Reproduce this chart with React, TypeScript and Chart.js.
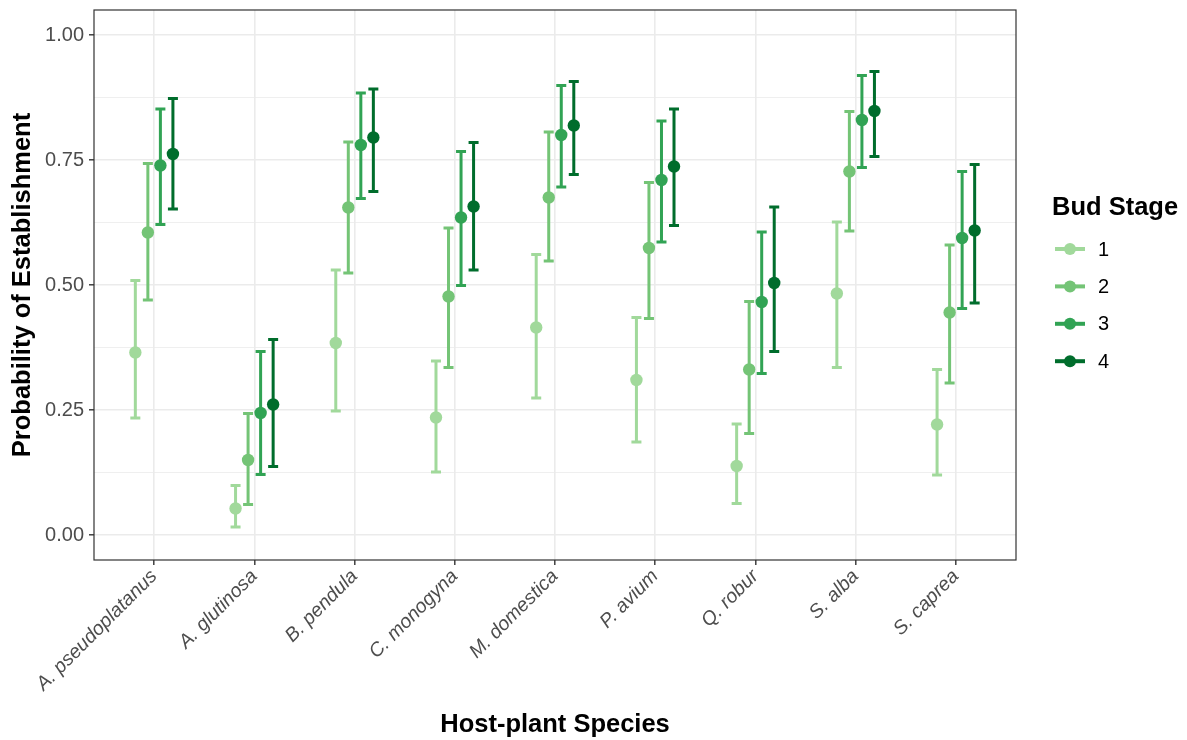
import React, { useEffect, useRef } from "react";
import { Chart, registerables } from "chart.js";

Chart.register(...registerables);

// Host-plant species (x categories)
const SPECIES = [
  "A. pseudoplatanus",
  "A. glutinosa",
  "B. pendula",
  "C. monogyna",
  "M. domestica",
  "P. avium",
  "Q. robur",
  "S. alba",
  "S. caprea",
];

// Bud stages (legend entries)
const STAGES = ["1", "2", "3", "4"];
const STAGE_COLORS = ["#a1d99b", "#74c476", "#31a354", "#006d2c"];

// Estimated probability of establishment with lower / upper interval, per bud stage
const EST_S1 = [0.365, 0.053, 0.384, 0.235, 0.415, 0.31, 0.138, 0.483, 0.221];
const LOW_S1 = [0.234, 0.016, 0.248, 0.126, 0.274, 0.186, 0.063, 0.335, 0.12];
const HIGH_S1 = [0.509, 0.099, 0.53, 0.348, 0.561, 0.435, 0.222, 0.626, 0.331];

const EST_S2 = [0.605, 0.15, 0.655, 0.477, 0.675, 0.574, 0.331, 0.727, 0.445];
const LOW_S2 = [0.47, 0.061, 0.524, 0.335, 0.548, 0.433, 0.203, 0.608, 0.304];
const HIGH_S2 = [0.743, 0.243, 0.786, 0.614, 0.806, 0.705, 0.467, 0.847, 0.58];

const EST_S3 = [0.739, 0.244, 0.78, 0.635, 0.8, 0.71, 0.466, 0.83, 0.594];
const LOW_S3 = [0.621, 0.121, 0.673, 0.499, 0.696, 0.586, 0.323, 0.735, 0.453];
const HIGH_S3 = [0.852, 0.367, 0.884, 0.767, 0.899, 0.828, 0.606, 0.919, 0.727];

const EST_S4 = [0.762, 0.261, 0.795, 0.657, 0.819, 0.737, 0.504, 0.848, 0.609];
const LOW_S4 = [0.652, 0.137, 0.687, 0.53, 0.721, 0.619, 0.367, 0.757, 0.464];
const HIGH_S4 = [0.873, 0.391, 0.892, 0.785, 0.907, 0.852, 0.656, 0.927, 0.741];

// Y axis tick values (major every 0.25, minor in between)
const Y_TICKS = [0, 0.125, 0.25, 0.375, 0.5, 0.625, 0.75, 0.875, 1];
const Y_MAJOR = [0, 0.25, 0.5, 0.75, 1];

const ESTIMATES = [EST_S1, EST_S2, EST_S3, EST_S4];
const LOWS = [LOW_S1, LOW_S2, LOW_S3, LOW_S4];
const HIGHS = [HIGH_S1, HIGH_S2, HIGH_S3, HIGH_S4];

// horizontal dodge of the four stages within a species slot
const DODGE = [-0.1875, -0.0625, 0.0625, 0.1875];

const FONT = "'Liberation Sans', Arial, Helvetica, sans-serif";
const GRID = "#ebebeb";
const INK = "#333333";
const TICK_TEXT = "#4d4d4d";
const CAP_HALF = 5;
const BAR_WIDTH = 3;

const isMajor = (v: number) => Y_MAJOR.some((m) => Math.abs(m - v) < 1e-9);

// keep the plotting panel at a fixed box regardless of label overhang
const noScalePadding = (scale: any) => {
  scale.paddingTop = 0;
  scale.paddingBottom = 0;
  scale.paddingLeft = 0;
  scale.paddingRight = 0;
};

const errorBarPlugin = {
  id: "errorBars",
  beforeDatasetsDraw(chart: any) {
    const { ctx } = chart;
    const xs = chart.scales.x;
    const ys = chart.scales.y;
    chart.data.datasets.forEach((ds: any) => {
      ctx.save();
      ctx.strokeStyle = ds.borderColor;
      ctx.lineWidth = BAR_WIDTH;
      ctx.lineCap = "butt";
      ds.data.forEach((p: any, i: number) => {
        const px = xs.getPixelForValue(p.x);
        const top = ys.getPixelForValue(ds.errHigh[i]);
        const bot = ys.getPixelForValue(ds.errLow[i]);
        ctx.beginPath();
        ctx.moveTo(px, top);
        ctx.lineTo(px, bot);
        ctx.moveTo(px - CAP_HALF, top);
        ctx.lineTo(px + CAP_HALF, top);
        ctx.moveTo(px - CAP_HALF, bot);
        ctx.lineTo(px + CAP_HALF, bot);
        ctx.stroke();
      });
      ctx.restore();
    });
  },
};

const panelBorderPlugin = {
  id: "panelBorder",
  afterDraw(chart: any) {
    const { ctx, chartArea: a } = chart;
    ctx.save();
    ctx.strokeStyle = INK;
    ctx.lineWidth = 1.2;
    ctx.strokeRect(a.left, a.top, a.right - a.left, a.bottom - a.top);
    ctx.restore();
  },
};

const stageLegendPlugin = {
  id: "stageLegend",
  afterDraw(chart: any) {
    const { ctx, chartArea: a } = chart;
    const x0 = a.right + 36;
    ctx.save();
    ctx.fillStyle = "#000000";
    ctx.font = `bold 25.5px ${FONT}`;
    ctx.textAlign = "left";
    ctx.textBaseline = "alphabetic";
    ctx.fillText("Bud Stage", x0, 215);
    chart.data.datasets.forEach((ds: any, i: number) => {
      const cy = 249 + i * 37.4;
      ctx.strokeStyle = ds.borderColor;
      ctx.lineWidth = 4;
      ctx.beginPath();
      ctx.moveTo(x0 + 3, cy);
      ctx.lineTo(x0 + 33, cy);
      ctx.stroke();
      ctx.fillStyle = ds.backgroundColor;
      ctx.beginPath();
      ctx.arc(x0 + 18, cy, 6, 0, Math.PI * 2);
      ctx.fill();
      ctx.fillStyle = "#000000";
      ctx.font = `20px ${FONT}`;
      ctx.textBaseline = "middle";
      ctx.fillText(ds.label, x0 + 46, cy + 1);
    });
    ctx.restore();
  },
};

export default function App() {
  const canvasRef = useRef<HTMLCanvasElement | null>(null);

  useEffect(() => {
    const canvas = canvasRef.current;
    if (!canvas) return;

    const datasets = STAGES.map((stage, s) => ({
      label: stage,
      data: SPECIES.map((_, i) => ({ x: i + DODGE[s], y: ESTIMATES[s][i] })),
      errLow: LOWS[s],
      errHigh: HIGHS[s],
      borderColor: STAGE_COLORS[s],
      backgroundColor: STAGE_COLORS[s],
      pointRadius: 6.2,
      pointBorderWidth: 0,
      pointHoverRadius: 6.2,
      showLine: false,
    }));

    const chart = new Chart(canvas, {
      type: "scatter",
      data: { datasets } as any,
      plugins: [errorBarPlugin, panelBorderPlugin, stageLegendPlugin],
      options: {
        responsive: false,
        animation: false,
        layout: { padding: { left: 0, top: 10, right: 171, bottom: 0 } },
        plugins: {
          legend: { display: false },
          tooltip: { enabled: false },
        },
        scales: {
          x: {
            type: "linear",
            min: -0.6,
            max: SPECIES.length - 1 + 0.6,
            afterBuildTicks: (scale: any) => {
              scale.ticks = SPECIES.map((_, i) => ({ value: i }));
            },
            afterFit: (scale: any) => {
              scale.height = 180;
              noScalePadding(scale);
            },
            ticks: {
              autoSkip: false,
              minRotation: 45,
              maxRotation: 45,
              padding: 0,
              color: TICK_TEXT,
              font: { family: FONT, size: 19.5, style: "italic" },
              callback: (v: any) => SPECIES[Math.round(Number(v))] ?? "",
            },
            grid: {
              color: GRID,
              lineWidth: 1.6,
              drawTicks: true,
              tickLength: 5,
              tickColor: INK,
              tickWidth: 1.4,
            },
            border: { display: false },
            title: {
              display: true,
              text: "Host-plant Species",
              color: "#000000",
              font: { family: FONT, size: 25.5, weight: "bold" },
              padding: { top: 0, bottom: 0 },
            },
          },
          y: {
            type: "linear",
            min: -0.05,
            max: 1.05,
            afterBuildTicks: (scale: any) => {
              scale.ticks = Y_TICKS.map((v) => ({ value: v }));
            },
            afterFit: (scale: any) => {
              scale.width = 94;
              noScalePadding(scale);
            },
            ticks: {
              autoSkip: false,
              padding: 5,
              color: TICK_TEXT,
              font: { family: FONT, size: 20 },
              callback: (v: any) => (isMajor(Number(v)) ? Number(v).toFixed(2) : ""),
            },
            grid: {
              color: GRID,
              lineWidth: (c: any) => (c.tick && isMajor(c.tick.value) ? 1.6 : 0.8),
              drawTicks: true,
              tickLength: 5,
              tickColor: (c: any) => (c.tick && isMajor(c.tick.value) ? INK : "rgba(0,0,0,0)"),
              tickWidth: 1.4,
            },
            border: { display: false },
            title: {
              display: true,
              text: "Probability of Establishment",
              color: "#000000",
              font: { family: FONT, size: 25.5, weight: "bold" },
              padding: { top: 8, bottom: 0 },
            },
          },
        },
      },
    } as any);

    return () => chart.destroy();
  }, []);

  return (
    <div
      style={{
        position: "fixed",
        left: 0,
        top: 0,
        width: 1187,
        height: 740,
        background: "#ffffff",
      }}
    >
      <canvas ref={canvasRef} width={1187} height={740} style={{ width: 1187, height: 740 }} />
    </div>
  );
}
